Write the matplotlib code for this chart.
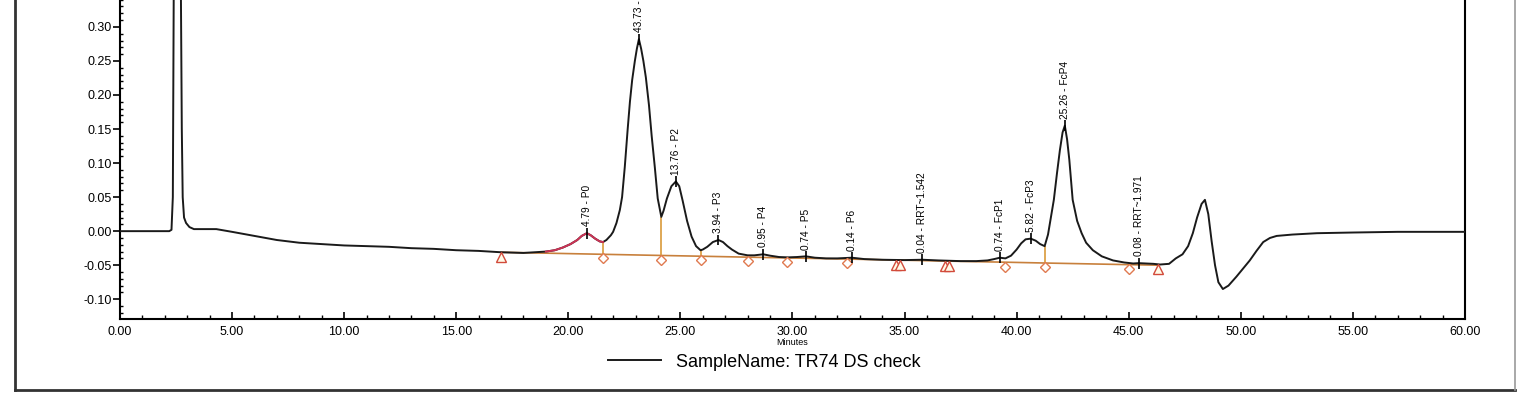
"""
Cromatograma TR74 DS check (Empower style), recreated with matplotlib.
"""
import matplotlib
matplotlib.use("Agg")
import matplotlib.pyplot as plt
from matplotlib.lines import Line2D
from matplotlib.ticker import MultipleLocator, FormatStrFormatter

# Trace (minutes, AU)
TRACE_T = [0.0, 2.2, 2.30, 2.36, 2.40, 2.50, 2.58, 2.66, 2.72, 2.76, 2.80, 2.86, 2.95, 3.1, 3.3,
           4.3, 5.0, 6.0, 7.0, 8.0, 9.0, 10.0, 11.0, 12.0, 13.0, 14.0, 15.0, 16.0, 17.0, 18.0,
           19.0, 19.4, 19.76, 20.1, 20.4, 20.6, 20.83, 21.0, 21.2, 21.4, 21.55, 21.7, 21.9, 22.0,
           22.15, 22.3, 22.4, 22.52, 22.65, 22.75, 22.85, 22.97, 23.06, 23.15, 23.25, 23.35, 23.46,
           23.6, 23.72, 23.86, 23.99, 24.15, 24.25, 24.4, 24.6, 24.8, 24.95, 25.1, 25.3, 25.5, 25.7,
           25.9, 26.0, 26.2, 26.45, 26.7, 26.9, 27.1, 27.3, 27.6, 28.0, 28.3, 28.7, 29.0, 29.4,
           29.8, 30.2, 30.6, 31.0, 31.5, 32.0, 32.65, 33.2, 34.0, 35.0, 35.8, 36.5, 37.5, 38.2,
           38.7, 39.0, 39.25, 39.5, 39.75, 40.0, 40.2, 40.4, 40.63, 40.85, 41.05, 41.25, 41.4,
           41.55, 41.66, 41.8, 41.93, 42.05, 42.15, 42.25, 42.35, 42.5, 42.7, 42.9, 43.1, 43.4,
           43.8, 44.3, 44.8, 45.2, 45.45, 45.8, 46.1, 46.4, 46.8, 47.1, 47.4, 47.65, 47.86, 48.05,
           48.25, 48.4, 48.55, 48.7, 48.85, 49.0, 49.2, 49.45, 49.8, 50.1, 50.4, 50.7, 51.0, 51.3,
           51.6, 52.3, 53.4, 55.0, 57.0, 60.0]
TRACE_V = [0.0, 0.0, 0.002, 0.05, 0.35, 0.70, 0.75, 0.60, 0.35, 0.15, 0.05, 0.02, 0.012, 0.006, 0.003,
           0.003, -0.001, -0.007, -0.013, -0.017, -0.019, -0.021, -0.022, -0.023, -0.025, -0.026,
           -0.028, -0.029, -0.031, -0.032,
           -0.030, -0.028, -0.024, -0.019, -0.013, -0.007, -0.003, -0.006, -0.011, -0.015, -0.016,
           -0.013, -0.006, -0.001,
           0.012, 0.031, 0.050, 0.094, 0.150, 0.190, 0.222, 0.250, 0.268, 0.282, 0.268, 0.250,
           0.226, 0.185, 0.140, 0.094, 0.048, 0.021, 0.030, 0.048, 0.066, 0.073, 0.066, 0.045,
           0.015, -0.008, -0.022,
           -0.028, -0.027, -0.023, -0.016, -0.013, -0.016, -0.022, -0.027, -0.033, -0.0355,
           -0.0355, -0.034, -0.036, -0.038,
           -0.0385, -0.038, -0.037, -0.039, -0.040, -0.040, -0.039, -0.041, -0.042, -0.0425,
           -0.042, -0.043, -0.044, -0.044,
           -0.043, -0.041, -0.039, -0.040, -0.036, -0.027, -0.018, -0.012, -0.011, -0.014,
           -0.019, -0.022, -0.005,
           0.025, 0.046, 0.085, 0.119, 0.145, 0.155, 0.135, 0.105, 0.046, 0.015, -0.003, -0.017,
           -0.028,
           -0.037, -0.043, -0.046, -0.0475, -0.047, -0.0475, -0.048, -0.049, -0.048, -0.040,
           -0.034, -0.022, -0.003, 0.020,
           0.040, 0.046, 0.025, -0.015, -0.050, -0.075, -0.085, -0.080, -0.067, -0.055, -0.043,
           -0.029, -0.016, -0.010,
           -0.007, -0.005, -0.003, -0.002, -0.001, -0.001]

# Integrated peaks
PEAK_T = [20.83, 23.15, 24.8, 26.7, 28.7, 30.6, 32.65, 35.8, 39.25, 40.63, 42.15, 45.45]
PEAK_V = [-0.003, 0.282, 0.073, -0.013, -0.034, -0.037, -0.039, -0.042, -0.039, -0.011, 0.155, -0.047]
PEAK_LABELS = ["4.79 - P0", "43.73 - P1", "13.76 - P2", "3.94 - P3", "0.95 - P4", "0.74 - P5",
               "0.14 - P6", "0.04 - RRT~1.542", "0.74 - FcP1", "5.82 - FcP3", "25.26 - FcP4",
               "0.08 - RRT~1.971"]

# Integration baseline and event markers
BASE_T = [17.0, 21.55, 24.15, 25.9, 28.0, 29.75, 32.45, 34.7, 36.9, 39.5, 41.25, 45.0, 46.3]
BASE_V = [-0.031, -0.034, -0.0357, -0.0368, -0.0382, -0.0393, -0.041, -0.0425, -0.044, -0.0456,
          -0.0468, -0.0492, -0.050]
DROP_T = [21.55, 24.15, 25.9, 41.25]
DROP_TOP = [-0.016, 0.021, -0.028, -0.022]
DROP_BOT = [-0.034, -0.0357, -0.0368, -0.0468]
TRI_T = [17.0, 34.6, 34.8, 36.8, 37.0, 46.3]
TRI_V = [-0.038, -0.049, -0.049, -0.051, -0.051, -0.056]
DIA_T = [21.55, 24.15, 25.9, 28.0, 29.75, 32.45, 39.5, 41.25, 45.0]
DIA_V = [-0.040, -0.042, -0.043, -0.044, -0.045, -0.047, -0.052, -0.053, -0.055]

Y_TICKS = [-0.10, -0.05, 0.00, 0.05, 0.10, 0.15, 0.20, 0.25, 0.30]
P0_START, P0_END = 19.0, 21.55

plt.rcParams["font.family"] = ["Liberation Sans", "DejaVu Sans"]

fig = plt.figure(figsize=(15.2, 3.94), dpi=100)
ax = fig.add_axes([0.0789, 0.1904, 0.8849, 0.845])

ax.plot(TRACE_T, TRACE_V, color="#1a1a1a", lw=1.4, label="SampleName: TR74 DS check", zorder=3)
# tramo del pico P0 en rojo
p0 = [(t, v) for t, v in zip(TRACE_T, TRACE_V) if P0_START <= t <= P0_END]
ax.plot([p[0] for p in p0], [p[1] for p in p0], color="#cc3355", lw=1.4, zorder=4)

ax.plot(BASE_T, BASE_V, color="#c8803c", lw=1.2, zorder=2)
ax.vlines(DROP_T, DROP_BOT, DROP_TOP, color="#d99a3a", lw=1.2, zorder=2)
ax.plot(TRI_T, TRI_V, ls="none", marker="^", ms=7, mfc="#fffbe8", mec="#d24a3a", mew=1.0, zorder=5)
ax.plot(DIA_T, DIA_V, ls="none", marker="D", ms=5, mfc="white", mec="#e07a50", mew=1.0, zorder=5)

# etiquetas de pico
ax.vlines(PEAK_T, [v - 0.008 for v in PEAK_V], [v + 0.008 for v in PEAK_V], color="black", lw=1.2, zorder=6)
for t, v, lab in zip(PEAK_T, PEAK_V, PEAK_LABELS):
    ax.text(t, v + 0.010, lab, rotation=90, ha="center", va="bottom", fontsize=7.3)

ax.set_xlim(0, 60)
ax.set_ylim(-0.129, 0.36)
ax.set_yticks(Y_TICKS)
ax.xaxis.set_major_locator(MultipleLocator(5))
ax.xaxis.set_minor_locator(MultipleLocator(1))
ax.xaxis.set_major_formatter(FormatStrFormatter("%.2f"))
ax.yaxis.set_minor_locator(MultipleLocator(0.01))
ax.yaxis.set_major_formatter(FormatStrFormatter("%.2f"))
ax.tick_params(axis="x", which="major", direction="in", length=5, width=1.2, labelsize=9, pad=5)
ax.tick_params(axis="x", which="minor", direction="in", length=3, width=1.0)
ax.tick_params(axis="y", which="major", direction="out", length=5, width=1.2, labelsize=9, pad=1)
ax.tick_params(axis="y", which="minor", direction="in", length=2, width=1.0)
for side in ("left", "bottom", "right"):
    ax.spines[side].set_linewidth(1.5)
ax.spines["top"].set_visible(False)
ax.set_xlabel("Minutes", fontsize=6.5, labelpad=0)

ax.legend(loc="center", bbox_to_anchor=(0.503, 0.081), bbox_transform=fig.transFigure,
          frameon=False, fontsize=13, handlelength=2.9, handletextpad=0.85)

# marco exterior
fx = lambda px: px / 1520
fy = lambda py: (394 - py) / 394
fig.add_artist(Line2D([fx(15), fx(15)], [fy(390), 1.0], color="#333333", lw=2))
fig.add_artist(Line2D([fx(15), fx(1515)], [fy(390), fy(390)], color="#333333", lw=2))
fig.add_artist(Line2D([fx(1515), fx(1515)], [fy(390), 1.0], color="#999999", lw=1.2))

fig.savefig("out.png", dpi=100)
